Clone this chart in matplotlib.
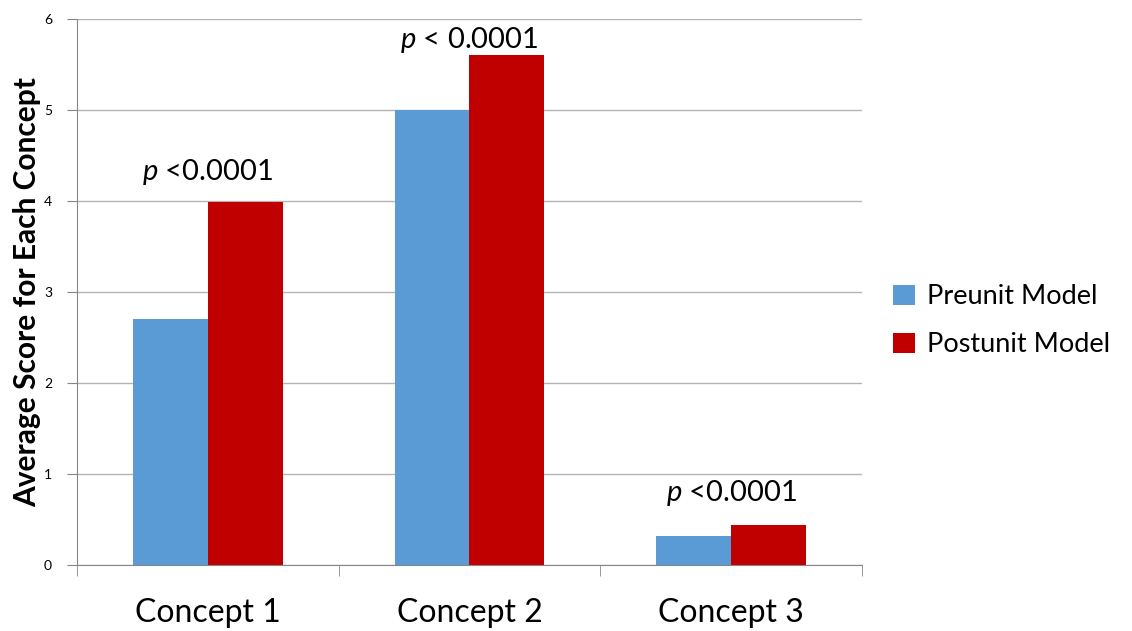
import numpy as np
import matplotlib.pyplot as plt

# data
concepts = ['Concept 1', 'Concept 2', 'Concept 3']
preunit = [2.7, 5.0, 0.32]
postunit = [3.99, 5.6, 0.44]
p_labels = ['<0.0001', '< 0.0001', '<0.0001']
p_heights = [4.32, 5.77, 0.79]

plt.rcParams['font.family'] = ['Lato', 'DejaVu Sans']
plt.rcParams['mathtext.fontset'] = 'custom'
plt.rcParams['mathtext.it'] = 'Lato:italic'
plt.rcParams['mathtext.rm'] = 'Lato'

fig = plt.figure(figsize=(11.32, 6.31), dpi=100)
ax = fig.add_axes([0.068, 0.1046, 0.6935, 0.8654])

x = np.arange(len(concepts))
w = 0.286
ax.bar(x - w / 2, preunit, w, color='#5b9bd5', label='Preunit Model', zorder=2)
ax.bar(x + w / 2, postunit, w, color='#c00000', label='Postunit Model', zorder=2)

for xi, lab, h in zip(x, p_labels, p_heights):
    ax.text(xi, h, r'$\mathit{p}$ ' + lab, ha='center', va='center', fontsize=21)

ax.set_xlim(-0.5, 2.5)
ax.set_ylim(0, 6)
ax.set_yticks(range(7))
ax.yaxis.grid(True, color='#b4b4b4', linewidth=1, zorder=0)
ax.set_axisbelow(True)

ax.set_xticks(x)
ax.set_xticklabels(concepts, fontsize=23)
ax.set_xticks([-0.5, 0.5, 1.5, 2.5], minor=True)
ax.tick_params(axis='x', which='major', length=0, pad=24)
ax.tick_params(axis='x', which='minor', length=8, color='#868686', direction='out')
ax.tick_params(axis='y', length=7, color='#868686', labelsize=10, pad=11)

for s in ['top', 'right']:
    ax.spines[s].set_visible(False)
for s in ['left', 'bottom']:
    ax.spines[s].set_color('#868686')

ax.set_ylabel('Average Score for Each Concept', fontsize=21.5, fontweight='bold', labelpad=2)

ax.legend(loc='center left', bbox_to_anchor=(1.04, 0.447), frameon=False, fontsize=19.5,
          borderpad=0, borderaxespad=0,
          handlelength=0.8, handleheight=0.8, handletextpad=0.45, labelspacing=0.85)

fig.savefig('out.png', dpi=100)
